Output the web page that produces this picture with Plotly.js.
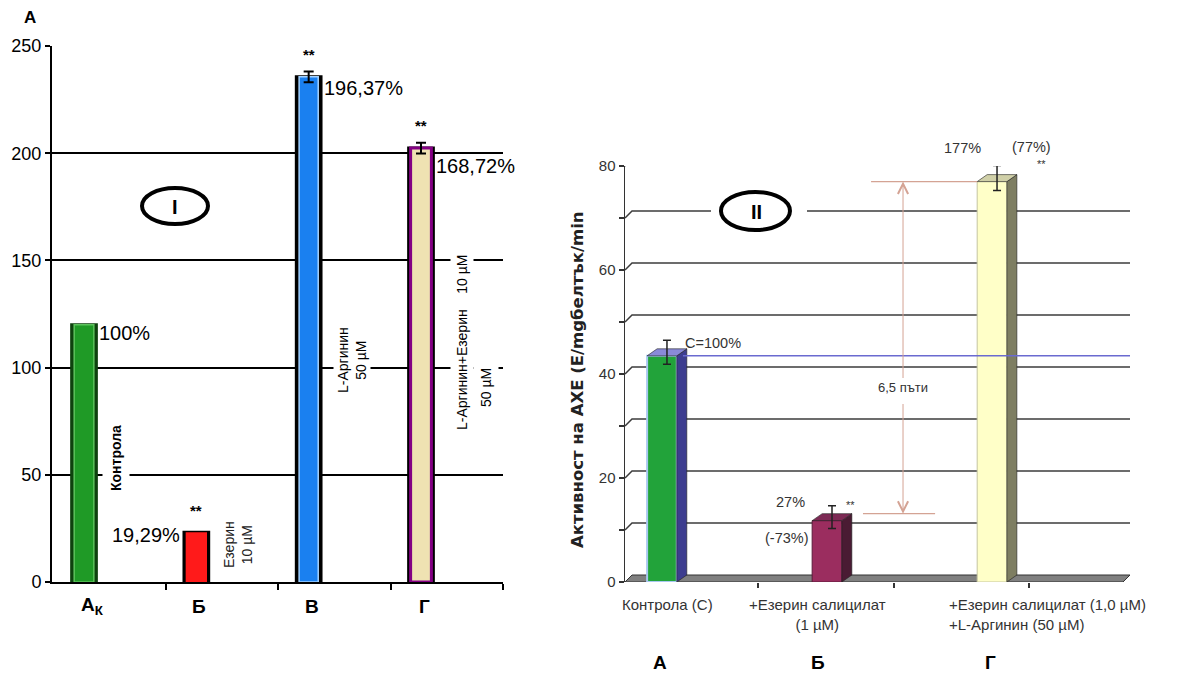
<!DOCTYPE html>
<html>
<head>
<meta charset="utf-8">
<script src="https://cdn.plot.ly/plotly-3.0.1.min.js"></script>
<style>
  html, body { margin: 0; padding: 0; background: #fff; }
  #chart { width: 1198px; height: 684px; }
</style>
</head>
<body>
<div id="chart"></div>
<script>
// ---- Panel I: activity by group ----
const catI   = ['А<sub>К</sub>', 'Б', 'В', 'Г'];
const valI   = [120, 23.2, 235.6, 202.4];
const errI   = [0, 0, 2.5, 2.5];
const pctI   = ['100%', '19,29%', '196,37%', '168,72%'];
const sigI   = ['', '**', '**', '**'];
const yTicksI = [0, 50, 100, 150, 200, 250];

// ---- Panel II: AChE activity (E/mg protein/min) ----
const catII    = ['Контрола (С)', '+Езерин салицилат<br>(1 µM)', '+Езерин салицилат (1,0 µM)<br>+L-Аргинин (50 µM)'];
const letterII = ['А', 'Б', 'Г'];
const valII    = [43.5, 11.8, 77];
const errII    = [2.3, 2.2, 2.4];
const pctII    = ['C=100%', '27%', '177%'];
const chgII    = ['', '(-73%)', '(77%)'];
const sigII    = ['', '**', '**'];
const yTicksII = [0, 10, 20, 30, 40, 50, 60, 70, 80];

// ---- geometry helpers (pixel -> paper) ----
const W = 1198, H = 684;
const px = v => v / W;
const py = v => 1 - v / H;
const FONT = 'Liberation Sans, Arial, sans-serif';

// ---- styles ----
const fillI   = ['#1f9a26', '#ff1a1a', '#1a80f0', '#efe2b2'];
const frameI  = ['#0e420e', '#000000', '#000000', '#000000'];
const edgeI   = ['#5cc25c', '#ff1a1a', '#a4d2ff', '#840084'];
const edgeWI  = [1.5, 0, 1.5, 3];
const innerWI = [0.175, 0.19, 0.17, 0.185];

const frontII = ['#22a33a', '#9b2d5f', '#ffffc8'];
const lineII  = ['#a8c8f0', '#5a1a3a', '#c4c4a0'];
const sideII  = ['#3d3d8f', '#4a1b33', '#7e7e62'];
const topII   = ['#8a8ad8', '#7d2a55', '#d0d0a8'];

const posI  = catI.map((_, i) => i);
const posII = catII.map((_, i) => i);

// panel II pseudo-3D depth in axis units (165 px per category, 5.2 px per unit)
const xRangeII = [-0.224, 2.836];
const barW = 0.18;
const ddx = 10 / 165;   // bar depth, horizontal
const gdx = 7 / 165;    // wall depth at the axis
const dyu = 7 / 5.2;    // depth, vertical
const x2 = p => (p - 662) / 165;      // pixel column -> x2 units
const y2 = p => (582 - p) / 5.2;      // pixel row -> y2 units

const traces = [];

// Panel I bars: dark frame + coloured core
traces.push({
  type: 'bar', x: posI, y: valI, width: 0.22,
  marker: { color: frameI, line: { color: frameI, width: 3 } },
  xaxis: 'x', yaxis: 'y', hoverinfo: 'skip', showlegend: false
});
traces.push({
  type: 'bar', x: posI, y: valI, width: innerWI,
  marker: { color: fillI, line: { color: edgeI, width: edgeWI } },
  xaxis: 'x', yaxis: 'y', hoverinfo: 'skip', showlegend: false
});
// Panel I error bars (only groups that carry one)
const errIdxI = posI.filter(i => errI[i] > 0);
traces.push({
  type: 'scatter', mode: 'markers',
  x: errIdxI, y: errIdxI.map(i => valI[i]),
  marker: { size: 1, opacity: 0 },
  error_y: { type: 'data', array: errIdxI.map(i => errI[i]), visible: true, color: '#000', thickness: 2, width: 5 },
  xaxis: 'x', yaxis: 'y', hoverinfo: 'skip', showlegend: false
});

// Panel II front faces
traces.push({
  type: 'bar', x: posII, y: valII, width: barW,
  marker: { color: frontII, line: { color: lineII, width: [2, 1, 1] } },
  xaxis: 'x2', yaxis: 'y2', hoverinfo: 'skip', showlegend: false
});

// Panel II side and top faces
posII.forEach((p, i) => {
  const xl = p - barW / 2, xr = p + barW / 2, v = valII[i];
  traces.push({
    type: 'scatter', mode: 'lines', fill: 'toself',
    x: [xr, xr, xr + ddx, xr + ddx, xr],
    y: [0, v, v + dyu, dyu, 0],
    fillcolor: sideII[i], line: { color: '#222', width: 0.6 },
    xaxis: 'x2', yaxis: 'y2', hoverinfo: 'skip', showlegend: false
  });
  traces.push({
    type: 'scatter', mode: 'lines', fill: 'toself',
    x: [xl, xr, xr + ddx, xl + ddx, xl],
    y: [v, v, v + dyu, v + dyu, v],
    fillcolor: topII[i], line: { color: '#222', width: 0.6 },
    xaxis: 'x2', yaxis: 'y2', hoverinfo: 'skip', showlegend: false
  });
});

// Panel II error bars, centred on the top face
traces.push({
  type: 'scatter', mode: 'markers',
  x: posII.map(p => p + ddx / 2), y: valII.map(v => v + dyu / 2),
  marker: { size: 1, opacity: 0 },
  error_y: { type: 'data', array: errII, visible: true, color: '#222', thickness: 1.5, width: 4 },
  xaxis: 'x2', yaxis: 'y2', hoverinfo: 'skip', showlegend: false
});

// ---- shapes ----
const shapes = [];

// back-wall grid of panel II
yTicksII.filter(v => v > 0).forEach(v => {
  shapes.push({
    type: 'path', xref: 'x2', yref: 'y2', layer: 'below',
    path: `M ${xRangeII[0]},${v} L ${xRangeII[0] + gdx},${v + dyu} L ${xRangeII[1]},${v + dyu}`,
    line: { color: '#3c3c3c', width: 1.5 }
  });
});
// floor slab
shapes.push({
  type: 'path', xref: 'x2', yref: 'y2', layer: 'below',
  path: `M ${xRangeII[0]},0 L ${xRangeII[1] - gdx},0 L ${xRangeII[1]},${dyu} L ${xRangeII[0] + gdx},${dyu} Z`,
  fillcolor: '#808080', line: { color: '#333', width: 1 }
});
// ring "II" on the back wall, with a clear margin around it
shapes.push({
  type: 'rect', xref: 'x2', yref: 'y2', layer: 'below',
  x0: x2(711), x1: x2(807), y0: y2(219), y1: y2(203),
  fillcolor: '#fff', line: { width: 0 }
});
shapes.push({
  type: 'circle', xref: 'x2', yref: 'y2', layer: 'below',
  x0: x2(721), x1: x2(790), y0: y2(230), y1: y2(192),
  fillcolor: '#fff', line: { color: '#000', width: 4 }
});
// control reference line
shapes.push({
  type: 'line', xref: 'x2', yref: 'y2', layer: 'above',
  x0: 0.127, x1: xRangeII[1], y0: valII[0], y1: valII[0],
  line: { color: '#6a6ad0', width: 1.5 }
});
// fold-change brackets
shapes.push({
  type: 'line', xref: 'x2', yref: 'y2', layer: 'above',
  x0: 1.267, x1: 2 - barW / 2, y0: valII[2], y1: valII[2],
  line: { color: '#d4a394', width: 1.2 }
});
shapes.push({
  type: 'line', xref: 'x2', yref: 'y2', layer: 'above',
  x0: 1.218, x1: 1.655, y0: valII[1] + dyu, y1: valII[1] + dyu,
  line: { color: '#d4a394', width: 1.2 }
});
// ring "I"
shapes.push({
  type: 'circle', xref: 'paper', yref: 'paper', layer: 'above',
  x0: px(142), x1: px(208), y0: py(224), y1: py(188),
  fillcolor: 'rgba(255,255,255,0)', line: { color: '#000', width: 4 }
});

// ---- annotations ----
const ann = [];
const txt = (o) => ann.push(Object.assign({
  showarrow: false, xanchor: 'center', yanchor: 'middle',
  font: { family: FONT, size: 14, color: '#000' }
}, o));

// Panel I
txt({ xref: 'paper', yref: 'paper', x: px(30), y: py(18), text: '<b>А</b>', font: { family: FONT, size: 17, color: '#000' } });
catI.forEach((c, i) => txt({
  xref: 'x', yref: 'paper', x: posI[i], y: py(606),
  xshift: i === 0 ? 8 : 3,
  text: '<b>' + c + '</b>', font: { family: FONT, size: 19, color: '#000' }
}));
const pctPosI = [
  { dx: 0.12, anchor: 'left', ys: -8 },
  { dx: -0.13, anchor: 'right', ys: -3 },
  { dx: 0.12, anchor: 'left', ys: -11 },
  { dx: 0.12, anchor: 'left', ys: -18 }
];
pctI.forEach((t, i) => txt({
  xref: 'x', yref: 'y', x: posI[i] + pctPosI[i].dx, y: valI[i],
  xanchor: pctPosI[i].anchor, yshift: pctPosI[i].ys,
  text: t, font: { family: FONT, size: 20, color: '#000' }
}));
const sigShiftI = [0, 11, 7, 7];
sigI.forEach((t, i) => { if (t) txt({
  xref: 'x', yref: 'y', x: posI[i], y: valI[i] + errI[i], yshift: sigShiftI[i],
  yanchor: 'bottom', text: '<b>' + t + '</b>', font: { family: FONT, size: 15, color: '#000' }
}); });

txt({ xref: 'paper', yref: 'paper', x: px(116), y: py(458), textangle: -90, borderpad: 5,
  text: '<b>Контрола</b>', bgcolor: '#fff', font: { family: FONT, size: 14, color: '#000' } });
txt({ xref: 'paper', yref: 'paper', x: px(238), y: py(545), textangle: -90,
  text: 'Езерин<br>10 µM', font: { family: FONT, size: 14, color: '#222' } });
txt({ xref: 'paper', yref: 'paper', x: px(352), y: py(360), textangle: -90,
  text: 'L-Аргинин<br>50 µM', bgcolor: '#fff', font: { family: FONT, size: 14, color: '#000' } });
txt({ xref: 'paper', yref: 'paper', x: px(462), y: py(343), textangle: -90, borderpad: 3,
  text: 'L-Аргинин+Езерин&nbsp;&nbsp;&nbsp;&nbsp;10 µM', bgcolor: '#fff', font: { family: FONT, size: 14, color: '#000' } });
txt({ xref: 'paper', yref: 'paper', x: px(486), y: py(388), textangle: -90, borderpad: 4,
  text: '50 µM', bgcolor: '#fff', font: { family: FONT, size: 14, color: '#000' } });
txt({ xref: 'paper', yref: 'paper', x: px(175), y: py(207), text: '<b>I</b>', font: { family: FONT, size: 20, color: '#000' } });

// Panel II
txt({ xref: 'paper', yref: 'paper', x: px(756), y: py(212), text: '<b>II</b>', font: { family: FONT, size: 20, color: '#000' } });
txt({ xref: 'paper', yref: 'paper', x: px(577), y: py(380), textangle: -90,
  text: '<b>Активност на АХЕ (Е/mgбелтък/min</b>', font: { family: 'DejaVu Sans, sans-serif', size: 16.5, color: '#222' } });

const catPosII = [
  { x: x2(668), anchor: 'center', align: 'center' },
  { x: x2(817), anchor: 'center', align: 'center' },
  { x: x2(947), anchor: 'left', align: 'left' }
];
catII.forEach((c, i) => txt({
  xref: 'x2', yref: 'paper', x: catPosII[i].x, y: py(594), xanchor: catPosII[i].anchor, yanchor: 'top',
  align: catPosII[i].align, text: c, font: { family: FONT, size: 15, color: '#333' }
}));
const letterX = [x2(660), x2(818), x2(990)];
letterII.forEach((c, i) => txt({
  xref: 'x2', yref: 'paper', x: letterX[i], y: py(662),
  text: '<b>' + c + '</b>', font: { family: FONT, size: 19, color: '#000' }
}));

const pctPosII = [
  { dx: 0.125, anchor: 'left', ys: 13 },
  { dx: -0.224, anchor: 'center', ys: 19 },
  { dx: -0.176, anchor: 'center', ys: 34 }
];
pctII.forEach((t, i) => txt({
  xref: 'x2', yref: 'y2', x: posII[i] + pctPosII[i].dx, y: valII[i],
  xanchor: pctPosII[i].anchor, yshift: pctPosII[i].ys,
  text: t, font: { family: FONT, size: 14.5, color: '#333' }
}));
const chgPosII = [null, { dx: -0.24, ys: -17 }, { dx: 0.24, ys: 35 }];
chgII.forEach((t, i) => { if (t) txt({
  xref: 'x2', yref: 'y2', x: posII[i] + chgPosII[i].dx, y: valII[i], yshift: chgPosII[i].ys,
  text: t, font: { family: FONT, size: 14.5, color: '#333' }
}); });
const sigPosII = [null, { dx: 0.14, ys: 16 }, { dx: 0.30, ys: 18 }];
sigII.forEach((t, i) => { if (t) txt({
  xref: 'x2', yref: 'y2', x: posII[i] + sigPosII[i].dx, y: valII[i], yshift: sigPosII[i].ys,
  text: t, font: { family: FONT, size: 11, color: '#333' }
}); });

// fold-change arrows
const arrowX = x2(903);
ann.push({
  xref: 'x2', yref: 'y2', axref: 'x2', ayref: 'y2',
  x: arrowX, y: valII[2], ax: arrowX, ay: y2(387),
  text: '6,5 пъти', showarrow: true, arrowhead: 5, arrowsize: 2, arrowwidth: 1,
  arrowcolor: '#d4a394', font: { family: FONT, size: 13, color: '#333' }
});
ann.push({
  xref: 'x2', yref: 'y2', axref: 'x2', ayref: 'y2',
  x: arrowX, y: valII[1] + dyu, ax: arrowX, ay: y2(400),
  text: ' ', showarrow: true, arrowhead: 5, arrowsize: 2, arrowwidth: 1,
  arrowcolor: '#d4a394', font: { family: FONT, size: 4, color: '#fff' }
});

// ---- layout ----
const layout = {
  width: W, height: H,
  margin: { l: 0, r: 0, t: 0, b: 0 },
  paper_bgcolor: '#fff', plot_bgcolor: 'rgba(0,0,0,0)',
  barmode: 'overlay', showlegend: false,
  font: { family: FONT, color: '#000' },
  xaxis: {
    domain: [px(52), px(503)], range: [-0.285, 3.73],
    tickmode: 'array', tickvals: [0.73, 1.73, 2.73, 3.73], ticktext: ['', '', '', ''],
    ticks: 'outside', ticklen: 6, tickwidth: 2, tickcolor: '#000',
    showline: true, linecolor: '#000', linewidth: 2,
    showgrid: false, zeroline: false, fixedrange: true
  },
  yaxis: {
    domain: [py(582), py(46)], range: [0, 250],
    tickmode: 'array', tickvals: yTicksI, ticktext: yTicksI.map(String),
    ticks: 'outside', ticklen: 5, tickwidth: 2, tickcolor: '#000',
    tickfont: { family: FONT, size: 18, color: '#000' },
    showline: true, linecolor: '#000', linewidth: 2,
    showgrid: true, gridcolor: '#000', gridwidth: 2, zeroline: false, fixedrange: true
  },
  xaxis2: {
    domain: [px(625), px(1130)], range: xRangeII, anchor: 'y2',
    tickmode: 'array', tickvals: [x2(758), x2(894), x2(1029)], ticktext: ['', '', ''],
    ticks: 'outside', ticklen: 5, tickwidth: 1.5, tickcolor: '#333',
    showline: false, showgrid: false, zeroline: false, fixedrange: true
  },
  yaxis2: {
    domain: [py(582), py(166)], range: [0, 80], anchor: 'x2',
    tickmode: 'array', tickvals: yTicksII,
    ticktext: yTicksII.map(v => (v % 20 === 0 ? String(v) : '')),
    ticks: 'outside', ticklen: 5, tickwidth: 1.5, tickcolor: '#333',
    tickfont: { family: FONT, size: 15, color: '#333' },
    showline: true, linecolor: '#333', linewidth: 1.5,
    showgrid: false, zeroline: false, fixedrange: true
  },
  shapes: shapes,
  annotations: ann
};

Plotly.newPlot('chart', traces, layout, { staticPlot: true, displayModeBar: false });
</script>
</body>
</html>
